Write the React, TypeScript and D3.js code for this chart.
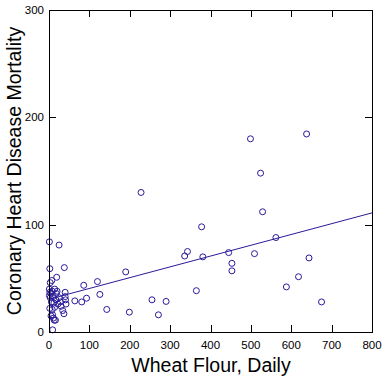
import React from "react";
import * as d3 from "d3";

const wheat = [
  1, 25, 2, 38, 19, 7, 3, 14, 1, 2, 5, 20, 1, 3, 10, 17, 22, 28, 12, 2, 14, 8, 5, 9, 11, 16, 13, 9,
  40, 40, 41, 42, 37, 34, 30, 18, 25, 8, 6,
  64, 81, 86, 93, 120, 126, 143, 190, 199, 228, 255, 271, 290, 336, 343, 365, 378, 381, 445, 453, 453,
  499, 509, 524, 529, 562, 588, 618, 638, 644, 675,
];
const mortality = [
  84, 81, 59, 60, 51, 48, 46, 40, 40, 37, 36, 38, 34, 32, 33, 30, 26, 28, 27, 22, 23, 21, 15, 16, 13, 11, 11, 2,
  37, 33, 30, 26, 17, 20, 24, 36, 32, 38, 28,
  29, 28, 43.5, 31.5, 47, 35, 21, 56, 18.5, 130, 30, 16, 28.5, 70.8, 75, 38.5, 98, 70, 74, 64, 57,
  180, 73, 148, 112, 88, 42, 51.5, 184.5, 69, 28,
];
const xTicks = [0, 100, 200, 300, 400, 500, 600, 700, 800];
const yTicks = [0, 100, 200, 300];
const fitIntercept = 30.5;
const fitSlope = 0.1006;

export default function App() {
  const W = 385, H = 378;
  const L = 49, R = 372, T = 10, B = 332;
  const x = d3.scaleLinear().domain([0, 800]).range([L, R]);
  const y = d3.scaleLinear().domain([0, 300]).range([B, T]);
  const col = "#2a1a99";
  const tick = 7;
  const font = "Arial, 'Liberation Sans', sans-serif";
  const line = d3.line<number>().x((d) => x(d)).y((d) => y(fitIntercept + fitSlope * d));
  return (
    <svg width={W} height={H} style={{ position: "absolute", left: 0, top: 0, background: "#fff" }}>
      <rect x={0} y={0} width={W} height={H} fill="#fff" />
      {/* ticks */}
      {xTicks.slice(1, -1).map((t) => (
        <g key={"xt" + t} stroke="#000" strokeWidth={1}>
          <line x1={Math.round(x(t)) + 0.5} x2={Math.round(x(t)) + 0.5} y1={B} y2={B - tick} />
          <line x1={Math.round(x(t)) + 0.5} x2={Math.round(x(t)) + 0.5} y1={T} y2={T + tick} />
        </g>
      ))}
      {yTicks.slice(1, -1).map((t) => (
        <g key={"yt" + t} stroke="#000" strokeWidth={1}>
          <line x1={L} x2={L + tick} y1={Math.round(y(t)) + 0.5} y2={Math.round(y(t)) + 0.5} />
          <line x1={R} x2={R - tick} y1={Math.round(y(t)) + 0.5} y2={Math.round(y(t)) + 0.5} />
        </g>
      ))}
      <path d={line([0, 800]) || ""} stroke={col} strokeWidth={1} fill="none" />
      {wheat.map((w, i) => (
        <circle key={i} cx={x(w)} cy={y(mortality[i])} r={3} fill="none" stroke={col} strokeWidth={1} />
      ))}
      <rect x={L + 0.5} y={T + 0.5} width={R - L} height={B - T} fill="none" stroke="#000" strokeWidth={1} />
      {xTicks.map((t) => (
        <text key={"xl" + t} x={x(t)} y={349} textAnchor="middle" fontFamily={font} fontSize={11.5} fill="#000">
          {t}
        </text>
      ))}
      {yTicks.map((t) => (
        <text key={"yl" + t} x={44} y={y(t) + 4} textAnchor="end" fontFamily={font} fontSize={11.5} fill="#000">
          {t}
        </text>
      ))}
      <text x={211} y={372} textAnchor="middle" fontFamily={font} fontSize={19.5} fill="#000">
        Wheat Flour, Daily
      </text>
      <text
        transform={`translate(20.5,171) rotate(-90)`}
        textAnchor="middle"
        fontFamily={font}
        fontSize={19.5}
        fill="#000"
      >
        Coronary Heart Disease Mortality
      </text>
    </svg>
  );
}
